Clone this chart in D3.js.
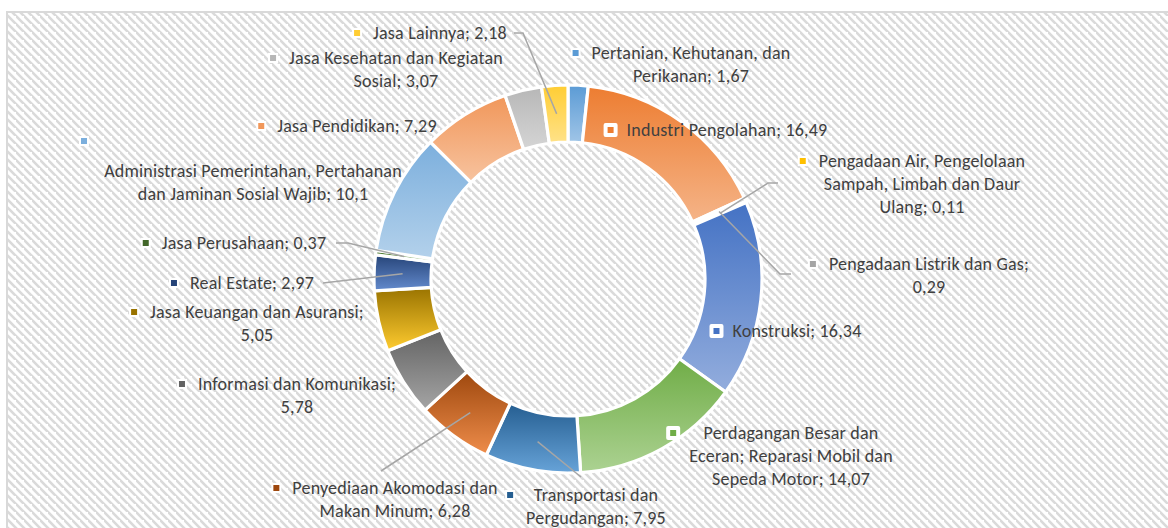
<!DOCTYPE html>
<html>
<head>
<meta charset="utf-8">
<script src="https://cdn.jsdelivr.net/npm/d3@7"></script>
<style>
    body { margin: 0; background: #fff; }
    svg { display: block; }
    .lbl { font-family: Carlito, Calibri, Lato, sans-serif; font-size: 18px; letter-spacing: 0.2px; fill: #404040; }
</style>
</head>
<body>
<svg id="chart" width="1168" height="528"></svg>
<script>
var categories = [
    "Pertanian, Kehutanan, dan Perikanan",
    "Industri Pengolahan",
    "Pengadaan Listrik dan Gas",
    "Pengadaan Air, Pengelolaan Sampah, Limbah dan Daur Ulang",
    "Konstruksi",
    "Perdagangan Besar dan Eceran; Reparasi Mobil dan Sepeda Motor",
    "Transportasi dan Pergudangan",
    "Penyediaan Akomodasi dan Makan Minum",
    "Informasi dan Komunikasi",
    "Jasa Keuangan dan Asuransi",
    "Real Estate",
    "Jasa Perusahaan",
    "Administrasi Pemerintahan, Pertahanan dan Jaminan Sosial Wajib",
    "Jasa Pendidikan",
    "Jasa Kesehatan dan Kegiatan Sosial",
    "Jasa Lainnya"
];
var values = [1.67, 16.49, 0.29, 0.11, 16.34, 14.07, 7.95, 6.28, 5.78, 5.05, 2.97, 0.37, 10.1, 7.29, 3.07, 2.18];

// office theme colours, in slice order
var colors = ["#5B9BD5", "#ED7D31", "#A5A5A5", "#FFC000", "#4472C4", "#70AD47",
    "#255E91", "#9E480E", "#636363", "#997300", "#264478", "#43682B",
    "#7CAFDD", "#F1975A", "#B7B7B7", "#FFCD33"];

// label placement: x = centre of text block, y = first line, lines = words per line
var labelLayout = [
    {x: 691, y: 53, lines: [3, 2], key: "out"},
    {x: 727, y: 130, lines: [3], key: "in"},
    {x: 929, y: 264, lines: [4, 1], key: "out", leader: [[791, 274], [780, 274]]},
    {x: 922, y: 161, lines: [3, 4, 2], key: "out", leader: [[778, 183], [768, 183]]},
    {x: 797, y: 331, lines: [2], key: "in"},
    {x: 791, y: 433, lines: [3, 4, 3], key: "in"},
    {x: 596, y: 495, lines: [2, 2], key: "out", leader: [[581, 477]]},
    {x: 395, y: 488, lines: [3, 3], key: "out", leader: [[381, 471]]},
    {x: 297, y: 384, lines: [3, 1], key: "out"},
    {x: 257, y: 312, lines: [4, 1], key: "out"},
    {x: 252, y: 283, lines: [3], key: "out", leader: [[323, 283]]},
    {x: 244, y: 243, lines: [3], key: "out", leader: [[336, 243], [348, 243]]},
    {x: 253, y: 171, lines: [3, 5], key: "above", keyPos: [84, 141]},
    {x: 357, y: 126, lines: [3], key: "out"},
    {x: 396, y: 58, lines: [4, 2], key: "out"},
    {x: 440, y: 33, lines: [3], key: "out", leader: [[514, 33], [523, 33]]}
];

var cx = 568, cy = 279, outerR = 194, innerR = 137, lineH = 23;

var svg = d3.select("#chart");
var defs = svg.append("defs");

var hatch = defs.append("pattern")
    .attr("id", "hatch")
    .attr("patternUnits", "userSpaceOnUse")
    .attr("width", 8).attr("height", 8);
hatch.append("rect").attr("width", 8).attr("height", 8).attr("fill", "#fff");
hatch.append("path")
    .attr("d", "M-2,-2L10,10M-6,2L2,10M6,-6L14,2")
    .attr("stroke", "#dadada")
    .attr("stroke-width", 2.6);

function lighter(c) {
    var h = d3.hsl(c);
    h.l = h.l + (1 - h.l) * 0.42;
    return h.formatHex();
}

colors.forEach(function(c, i) {
    var g = defs.append("linearGradient")
        .attr("id", "grad" + i)
        .attr("x1", 0).attr("y1", 0).attr("x2", 0).attr("y2", 1);
    g.append("stop").attr("offset", "0%").attr("stop-color", c);
    g.append("stop").attr("offset", "100%").attr("stop-color", lighter(c));
});

// chart frame
svg.append("rect")
    .attr("x", 7).attr("y", 12)
    .attr("width", 1175).attr("height", 540)
    .attr("fill", "url(#hatch)")
    .attr("stroke", "#d9d9d9")
    .attr("stroke-width", 2);

var pie = d3.pie().sort(null).value(function(d) { return d; });
var arcs = pie(values);

var arc = d3.arc().innerRadius(innerR).outerRadius(outerR);

var donut = svg.append("g").attr("transform", "translate(" + cx + "," + cy + ")");

donut.selectAll("path").data(arcs)
    .enter().append("path")
    .attr("d", arc)
    .attr("fill", function(d, i) { return "url(#grad" + i + ")"; })
    .attr("stroke", "#fff")
    .attr("stroke-width", 3.2)
    .attr("stroke-linejoin", "miter");

// leader lines go to the slice centroid
svg.append("g").selectAll("polyline")
    .data(arcs.filter(function(d, i) { return labelLayout[i].leader; }))
    .enter().append("polyline")
    .attr("points", function(d) {
        var c = arc.centroid(d);
        var pts = labelLayout[d.index].leader.concat([[cx + c[0], cy + c[1]]]);
        return pts.map(function(p) { return p.join(","); }).join(" ");
    })
    .attr("fill", "none")
    .attr("stroke", "#a6a6a6")
    .attr("stroke-width", 1.5);

function fmt(v) {
    return String(v).replace(".", ",");
}

var labels = svg.append("g");

categories.forEach(function(name, i) {
    var lay = labelLayout[i];
    var words = (name + "; " + fmt(values[i])).split(" ");
    var lines = [], k = 0;
    lay.lines.forEach(function(n) {
        lines.push(words.slice(k, k + n).join(" "));
        k += n;
    });

    var txt = labels.append("text")
        .attr("class", "lbl")
        .attr("text-anchor", "middle");
    lines.forEach(function(l, j) {
        txt.append("tspan")
            .attr("x", lay.x)
            .attr("y", lay.y + j * lineH)
            .attr("dominant-baseline", "central")
            .text(l);
    });

    // legend key sits left of the widest line
    var left = lay.x - txt.node().getBBox().width / 2;
    var kx = left - 16, ky = lay.y;
    if (lay.key == "above") { kx = lay.keyPos[0]; ky = lay.keyPos[1]; }

    if (lay.key == "in") {
        labels.append("rect")
            .attr("x", kx - 7).attr("y", ky - 7)
            .attr("width", 14).attr("height", 14)
            .attr("rx", 2)
            .attr("fill", "#fff");
    } else {
        labels.append("rect")
            .attr("x", kx - 5).attr("y", ky - 5)
            .attr("width", 10).attr("height", 10)
            .attr("fill", "#fff");
    }
    labels.append("rect")
        .attr("x", kx - 3).attr("y", ky - 3)
        .attr("width", 6).attr("height", 6)
        .attr("fill", colors[i]);
});
</script>
</body>
</html>
